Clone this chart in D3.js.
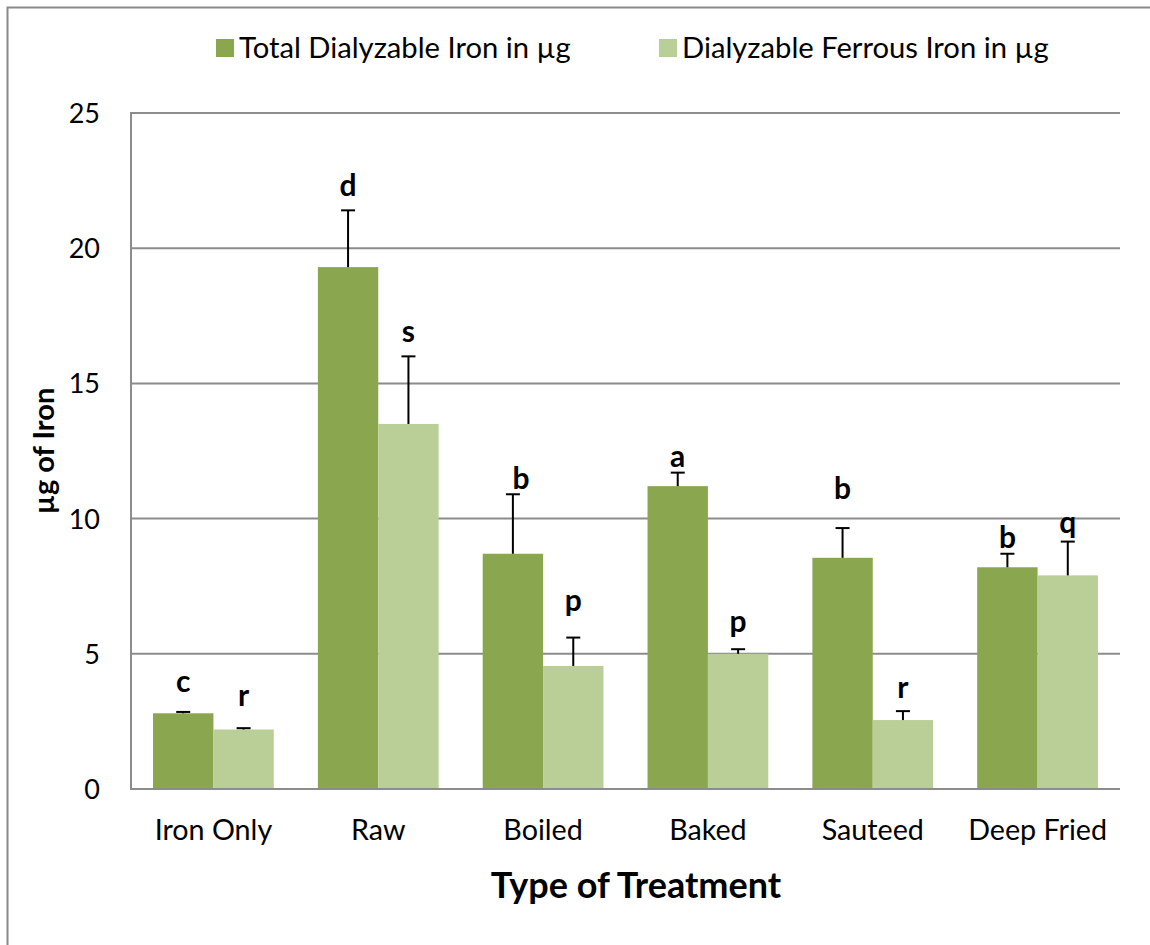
<!DOCTYPE html>
<html>
<head>
<meta charset="utf-8">
<script src="https://cdn.jsdelivr.net/npm/d3@7"></script>
<style>
  html, body { margin: 0; padding: 0; background: #fff; }
  svg { display: block; font-family: Lato, "Open Sans", sans-serif; }
</style>
</head>
<body>
<svg id="chart" width="1150" height="945"></svg>
<script>
// ---- data ----
const categories = ["Iron Only", "Raw", "Boiled", "Baked", "Sauteed", "Deep Fried"];
const seriesNames = ["Total Dialyzable Iron in µg", "Dialyzable Ferrous Iron in µg"];
const totalIron = [2.8, 19.3, 8.7, 11.2, 8.55, 8.2];
const totalErr = [0.05, 2.1, 2.2, 0.5, 1.1, 0.5];
const ferrousIron = [2.2, 13.5, 4.55, 5.0, 2.55, 7.9];
const ferrousErr = [0.05, 2.5, 1.05, 0.17, 0.33, 1.25];
const totalLetters = ["c", "d", "b", "a", "b", "b"];
const ferrousLetters = ["r", "s", "p", "p", "r", "q"];
const yTicks = [0, 5, 10, 15, 20, 25];

// ---- layout ----
const colors = ["#8AA64E", "#BACF98"];
const plot = { left: 131, right: 1120, top: 113, bottom: 789 };
// pixel gap between error-bar cap and letter baseline, per series/category (layout only)
const letterGap = [[20, 14, 5, 6, 29, 6], [22, 14, 27, 17, 13, 9]];
const letterDx = [[0, 0, 8, 0, 0, 0], [0, 0, 0, 0, 0, 0]];

const svg = d3.select("#chart");

// outer frame (top and left visible)
svg.append("path")
  .attr("d", "M7.5,945 L7.5,7.5 L1150,7.5")
  .attr("fill", "none").attr("stroke", "#898989").attr("stroke-width", 2);

const y = d3.scaleLinear().domain([0, 25]).range([plot.bottom, plot.top]);
const x0 = d3.scaleBand().domain(categories).range([plot.left, plot.right]).paddingInner(0).paddingOuter(0);
const groupW = x0.bandwidth() * 2 / 2.73;
const x1 = d3.scaleBand().domain([0, 1])
  .range([(x0.bandwidth() - groupW) / 2, (x0.bandwidth() + groupW) / 2]).padding(0);

// gridlines
svg.append("g").selectAll("line").data(yTicks.filter(d => d > 0)).join("line")
  .attr("x1", plot.left).attr("x2", plot.right)
  .attr("y1", d => y(d)).attr("y2", d => y(d))
  .attr("stroke", "#8c8c8c").attr("stroke-width", 2);

// y axis
const yAxis = d3.axisLeft(y).tickValues(yTicks).tickSize(0).tickPadding(0);
const gy = svg.append("g").attr("transform", `translate(100,0)`).call(yAxis);
gy.select(".domain").remove();
gy.selectAll("text").attr("font-family", "Lato, sans-serif").attr("font-size", 27).attr("fill", "#000")
  .attr("dy", "0.35em");

svg.append("line").attr("x1", plot.left).attr("x2", plot.left)
  .attr("y1", plot.top - 1).attr("y2", plot.bottom + 1)
  .attr("stroke", "#8c8c8c").attr("stroke-width", 2);

// bars
const series = [
  { vals: totalIron, errs: totalErr, letters: totalLetters },
  { vals: ferrousIron, errs: ferrousErr, letters: ferrousLetters }
];
series.forEach((s, si) => {
  const g = svg.append("g");
  g.selectAll("rect").data(categories).join("rect")
    .attr("x", (c) => x0(c) + x1(si))
    .attr("width", x1.bandwidth())
    .attr("y", (c, i) => y(s.vals[i]))
    .attr("height", (c, i) => plot.bottom - y(s.vals[i]))
    .attr("fill", colors[si]);
});

// x axis line
svg.append("line").attr("x1", plot.left).attr("x2", plot.right)
  .attr("y1", plot.bottom).attr("y2", plot.bottom)
  .attr("stroke", "#8c8c8c").attr("stroke-width", 2);

// error bars and letters
series.forEach((s, si) => {
  const g = svg.append("g");
  categories.forEach((c, i) => {
    const cx = x0(c) + x1(si) + x1.bandwidth() / 2;
    const yv = y(s.vals[i]);
    const ye = y(s.vals[i] + s.errs[i]);
    g.append("line").attr("x1", cx).attr("x2", cx).attr("y1", yv).attr("y2", ye)
      .attr("stroke", "#000").attr("stroke-width", 2);
    g.append("line").attr("x1", cx - 7).attr("x2", cx + 7).attr("y1", ye).attr("y2", ye)
      .attr("stroke", "#000").attr("stroke-width", 2);
    g.append("text").attr("x", cx + letterDx[si][i]).attr("y", ye - letterGap[si][i])
      .attr("text-anchor", "middle").attr("font-weight", "bold").attr("font-size", 30)
      .text(s.letters[i]);
  });
});

// x axis labels
svg.append("g").selectAll("text").data(categories).join("text")
  .attr("x", c => x0(c) + x0.bandwidth() / 2)
  .attr("y", 840)
  .attr("text-anchor", "middle").attr("font-size", 28.7)
  .text(c => c);

// axis titles
svg.append("text").attr("x", 636).attr("y", 898).attr("text-anchor", "middle")
  .attr("font-weight", "bold").attr("font-size", 36).text("Type of Treatment");
svg.append("text").attr("transform", "translate(54,451) rotate(-90)")
  .attr("text-anchor", "middle").attr("font-weight", "bold").attr("font-size", 29).text("µg of Iron");

// legend
const legendX = [216, 659];
seriesNames.forEach((n, i) => {
  svg.append("rect").attr("x", legendX[i]).attr("y", 39).attr("width", 18).attr("height", 18).attr("fill", colors[i]);
  svg.append("text").attr("x", legendX[i] + 23).attr("y", 58).attr("font-size", 29.2).text(n);
});
</script>
</body>
</html>
